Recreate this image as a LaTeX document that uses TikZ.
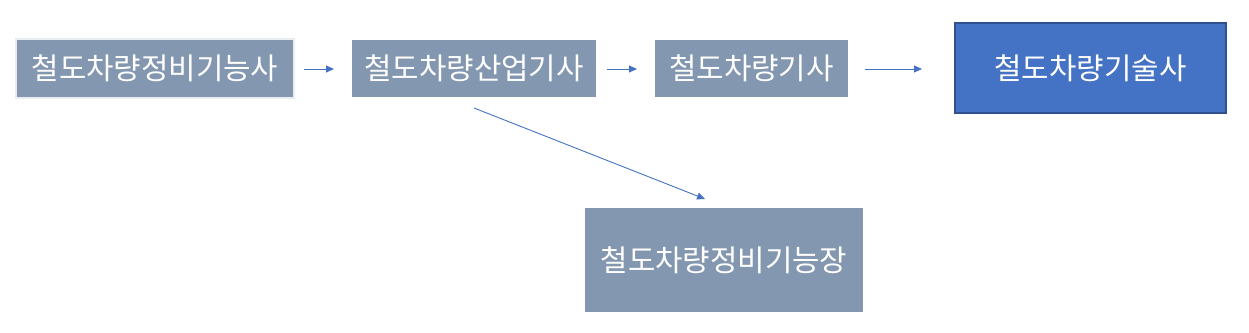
\documentclass[tikz,border=0pt]{standalone}
\usepackage{fontspec}
\newfontfamily\kr{Noto Sans CJK KR}
\usetikzlibrary{arrows.meta}
\definecolor{grayblue}{HTML}{8497B0}
\definecolor{edgegray}{HTML}{E9EDF2}
\definecolor{mainblue}{HTML}{4472C4}
\definecolor{darkblue}{HTML}{2F528F}
\tikzset{
  box/.style={fill=grayblue, draw=none, text=white, inner sep=0pt, font=\kr\fontsize{29.8}{33}\selectfont},
  conn/.style={draw=mainblue, line width=0.9pt, -{Triangle[length=8pt,width=7pt]}},
}
\begin{document}
\begin{tikzpicture}[x=1pt,y=-1pt]
\useasboundingbox[fill=white] (0,0) rectangle (1249,332);
\node[box, draw=edgegray, line width=2pt, minimum width=278pt, minimum height=59pt] (a) at (155,68.5) {철도차량정비기능사};
\node[box, minimum width=244pt, minimum height=57pt] (b) at (474,68.5) {철도차량산업기사};
\node[box, minimum width=193pt, minimum height=57pt] (c) at (751.5,68.5) {철도차량기사};
\node[box, fill=mainblue, draw=darkblue, line width=1.5pt, minimum width=271pt, minimum height=90pt] (d) at (1090.5,68) {철도차량기술사};
\node[box, minimum width=278pt, minimum height=104pt] (e) at (724,260) {철도차량정비기능장};
\coordinate (a1) at (304,69);
\coordinate (b0) at (334,69);
\coordinate (b1) at (607,69);
\coordinate (c0) at (637,69);
\coordinate (c1) at (865,69);
\coordinate (d0) at (922,69);
\coordinate (b2) at (474,108);
\coordinate (e0) at (705,199);
\draw[conn] (a1) -- (b0);
\draw[conn] (b1) -- (c0);
\draw[conn] (c1) -- (d0);
\draw[conn] (b2) -- (e0);
\end{tikzpicture}
\end{document}
